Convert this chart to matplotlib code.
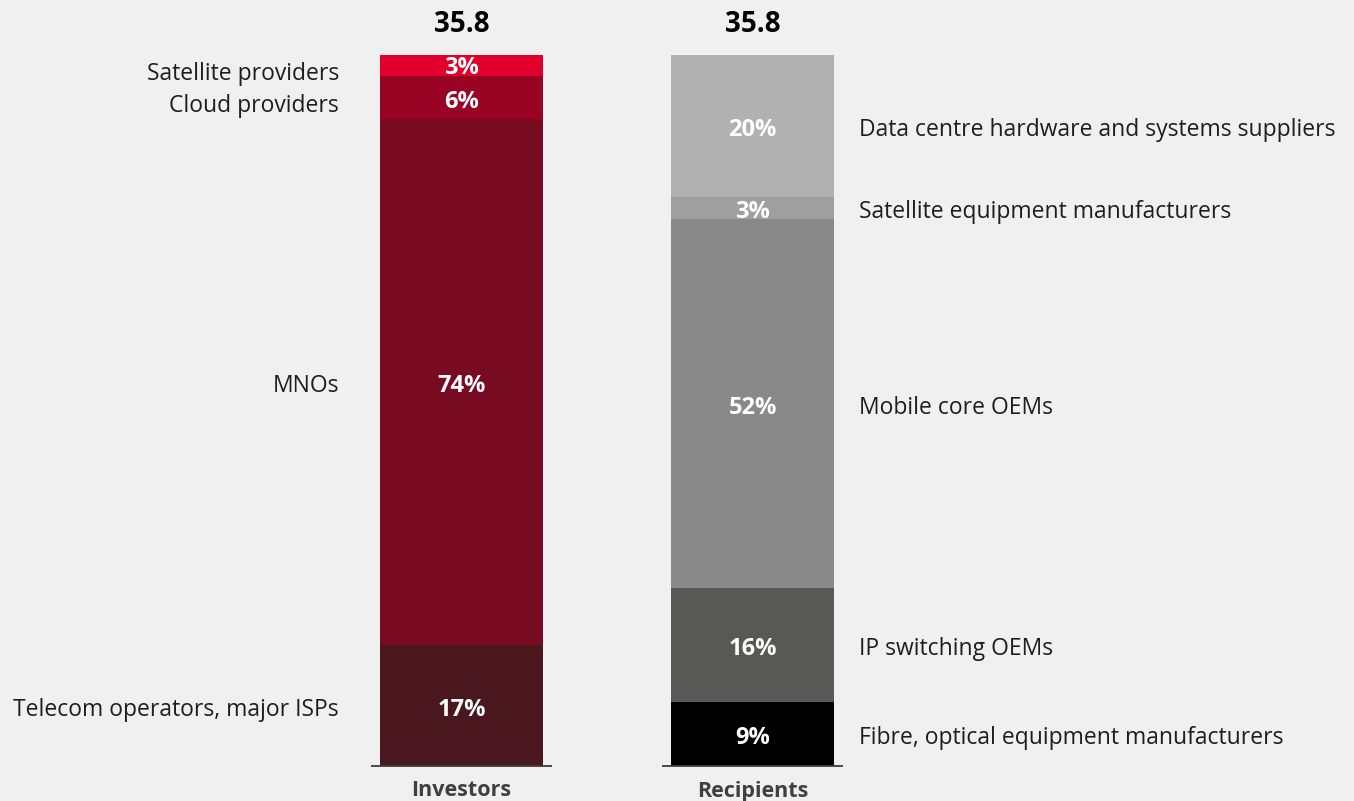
import matplotlib
matplotlib.use("Agg")
import matplotlib.pyplot as plt
import numpy as np

plt.rcParams['font.family'] = ['Open Sans', 'DejaVu Sans']

# ---- data ----
groups = ["Investors", "Recipients"]
totals = ["35.8", "35.8"]

investor_labels = ["Telecom operators, major ISPs", "MNOs", "Cloud providers", "Satellite providers"]
investor_values = [17, 74, 6, 3]
investor_colors = ["#4a171f", "#780b22", "#990425", "#e0002b"]

recipient_labels = ["Fibre, optical equipment manufacturers", "IP switching OEMs",
                    "Mobile core OEMs", "Satellite equipment manufacturers",
                    "Data centre hardware and systems suppliers"]
recipient_values = [9, 16, 52, 3, 20]
recipient_colors = ["#000000", "#585856", "#898989", "#9f9f9f", "#b1b1b1"]

# label nudges (points, vertical) for crowded small segments
investor_nudge = [0, 0, -3, -3]
recipient_nudge = [0, 0, 0, 0, 0]
pct_nudge_inv = [0, 0, 0, 1]

bg = "#f0f0f0"
fig = plt.figure(figsize=(13.54, 8.01), dpi=100, facecolor=bg)
ax = fig.add_axes([316/1354, 35/801, 582/1354, 711/801])
ax.set_facecolor(bg)
ax.set_xlim(-0.5, 1.5)
ax.set_ylim(0, 100)
ax.axis('off')

width = 0.56
text_col = "#1e1e1e"

def draw_stack(x, values, colors, labels, nudges, pnudges, side):
    bottom = 0
    for v, c, lab, nd, pn in zip(values, colors, labels, nudges, pnudges):
        ax.bar(x, v, width=width, bottom=bottom, color=c, edgecolor='none')
        yc = bottom + v / 2
        ax.annotate(f"{v}%", (x, yc), xytext=(0, -3 + pn), textcoords='offset points',
                    ha='center', va='center', color='white', fontsize=17, fontweight='bold')
        if side == 'left':
            ax.annotate(lab, (x - 0.421, yc), xytext=(0, -3 + nd), textcoords='offset points',
                        ha='right', va='center', color=text_col, fontsize=16.5)
        else:
            ax.annotate(lab, (x + 0.366, yc), xytext=(0, -3 + nd), textcoords='offset points',
                        ha='left', va='center', color=text_col, fontsize=16.5)
        bottom += v
    ax.hlines(0, x - 0.311, x + 0.311, color="#3c3c3c", lw=1.3, clip_on=False)

draw_stack(0, investor_values, investor_colors, investor_labels, investor_nudge, pct_nudge_inv, 'left')
draw_stack(1, recipient_values, recipient_colors, recipient_labels, recipient_nudge,
           [0] * len(recipient_values), 'right')

for i, (g, t) in enumerate(zip(groups, totals)):
    ax.annotate(t, (i, 100), xytext=(0, 22), textcoords='offset points',
                ha='center', va='center', fontsize=20, fontweight='bold', color='black')
    ax.annotate(g, (i, 0), xytext=(0, -18), textcoords='offset points',
                ha='center', va='center', fontsize=15.5, fontweight='bold', color='#404040')

fig.savefig("out.png", dpi=100, facecolor=bg)
